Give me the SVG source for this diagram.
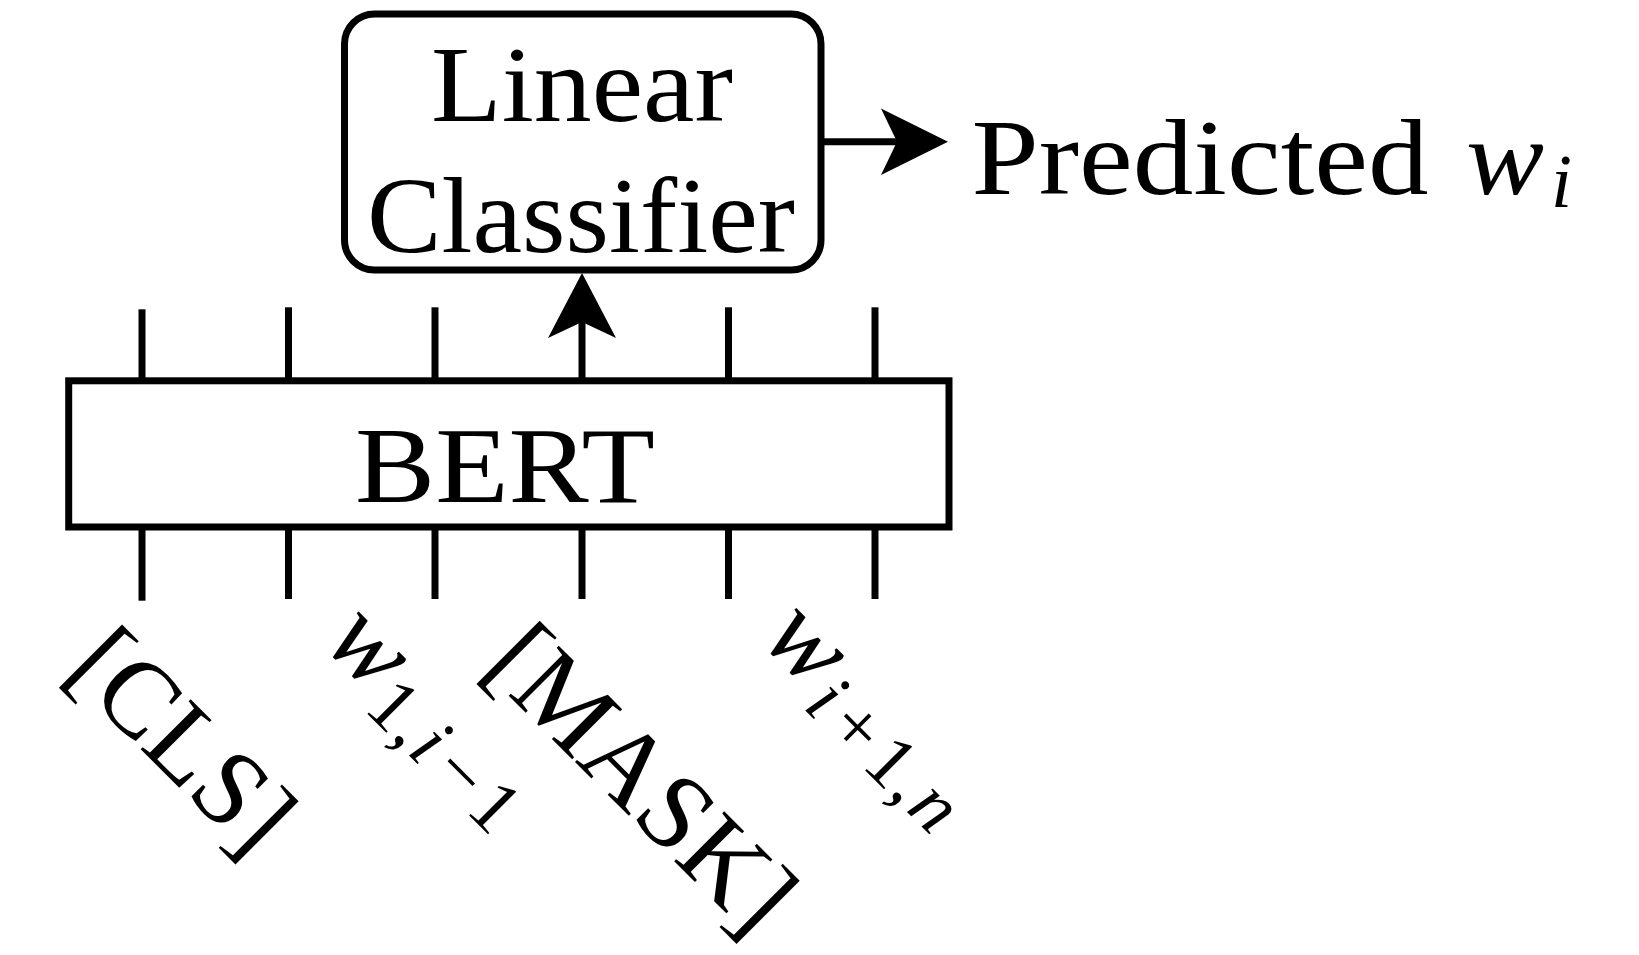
<svg xmlns="http://www.w3.org/2000/svg" width="1639" height="955" viewBox="0 0 1639 955">
<style>
.box{fill:#fff;stroke:#000;stroke-width:7}
.ln{stroke:#000;stroke-width:7;fill:none}
.head{fill:#000;stroke:none}
.lbl{font-family:"Liberation Serif","Times New Roman",serif;font-size:108px;fill:#000}
.it{font-style:italic}
.sub{font-size:75.6px}
</style>
<rect x="0" y="0" width="1639" height="955" fill="#fff"/>
<g id="connectors">
<line class="ln" x1="142" y1="309.3" x2="142" y2="380.8"/>
<line class="ln" x1="288.5" y1="307.3" x2="288.5" y2="380.8"/>
<line class="ln" x1="435" y1="307.3" x2="435" y2="380.8"/>
<line class="ln" x1="728.5" y1="307.3" x2="728.5" y2="380.8"/>
<line class="ln" x1="875" y1="307.3" x2="875" y2="380.8"/>
<line class="ln" x1="142" y1="527" x2="142" y2="600.7"/>
<line class="ln" x1="288.5" y1="527" x2="288.5" y2="599"/>
<line class="ln" x1="435" y1="527" x2="435" y2="599"/>
<line class="ln" x1="582" y1="527" x2="582" y2="599"/>
<line class="ln" x1="728.5" y1="527" x2="728.5" y2="599"/>
<line class="ln" x1="875" y1="527" x2="875" y2="599"/>
<line class="ln" x1="582" y1="380.8" x2="582" y2="322"/>
<polygon class="head" points="582,273 616,338 582,322 548,338"/>
<line class="ln" x1="821" y1="141.7" x2="897" y2="141.7"/>
<polygon class="head" points="948,141.7 881,108.5 897,141.7 881,175"/>
</g>
<g id="classifier">
<rect class="box" x="344.5" y="14" width="476.5" height="256" rx="30" ry="30"/>
<text class="lbl" x="431" y="120.7" textLength="302" lengthAdjust="spacingAndGlyphs">Linear</text>
<text class="lbl" x="367" y="252.3" textLength="428" lengthAdjust="spacingAndGlyphs">Classifier</text>
</g>
<g id="bert">
<rect class="box" x="68.7" y="380.8" width="880.3" height="146.2"/>
<text class="lbl" x="355" y="501.7" textLength="300" lengthAdjust="spacingAndGlyphs">BERT</text>
</g>
<g id="output">
<text class="lbl" x="971.5" y="194.3" textLength="457" lengthAdjust="spacingAndGlyphs">Predicted</text>
<text class="lbl it" x="1466" y="194.3" textLength="78" lengthAdjust="spacingAndGlyphs">w</text>
<text class="lbl it sub" x="1551" y="207">i</text>
</g>
<g id="input-cls" transform="translate(63.4,672) rotate(45)">
<text class="lbl" x="0" y="0" textLength="265.6" lengthAdjust="spacingAndGlyphs">[CLS]</text>
</g>
<g id="input-w-before" transform="translate(320,643.1) rotate(45)">
<text class="lbl"><tspan class="it" x="2" y="0">w</tspan><tspan class="sub" x="77" y="16.5">1</tspan><tspan class="sub" x="115.9" y="16.5">,</tspan><tspan class="sub it" x="138.3" y="16.5">i</tspan><tspan class="sub" x="170" y="16.5">−</tspan><tspan class="sub" x="220.7" y="16.5">1</tspan></text>
</g>
<g id="input-mask" transform="translate(481,668) rotate(45)">
<text class="lbl" x="0" y="0" textLength="384" lengthAdjust="spacingAndGlyphs">[MASK]</text>
</g>
<g id="input-w-after" transform="translate(757.8,639.7) rotate(45)">
<text class="lbl"><tspan class="it" x="2" y="0">w</tspan><tspan class="sub it" x="79.5" y="16.5">i</tspan><tspan class="sub" x="111.2" y="16.5">+</tspan><tspan class="sub" x="161.9" y="16.5">1</tspan><tspan class="sub" x="200.7" y="16.5">,</tspan><tspan class="sub it" x="224.5" y="16.5">n</tspan></text>
</g>
</svg>
